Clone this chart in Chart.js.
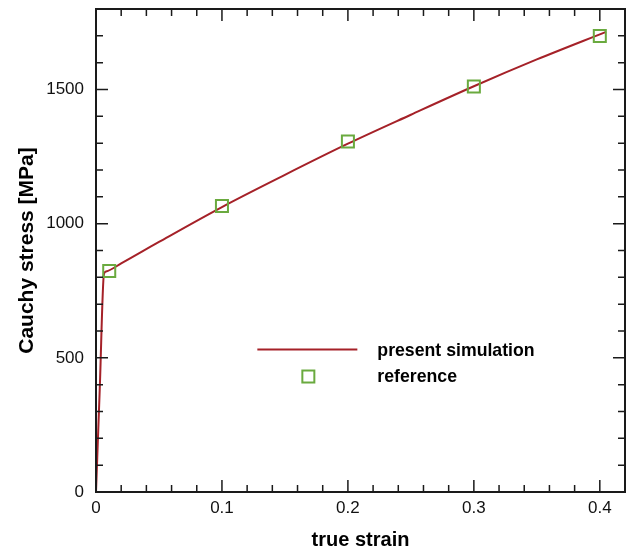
<!DOCTYPE html>
<html>
<head>
<meta charset="utf-8">
<script src="https://cdn.jsdelivr.net/npm/chart.js@4"></script>
<style>
  html, body { margin: 0; padding: 0; background: #fff; }
  #wrap { width: 631px; height: 549px; }
</style>
</head>
<body>
<div id="wrap"><canvas id="chart" width="631" height="549"></canvas></div>
<script>
// simulated stress-strain curve
const simStrain = [0, 0.003, 0.0063, 0.008, 0.02, 0.05, 0.1, 0.15, 0.2, 0.25, 0.3, 0.35, 0.405];
const simStress = [0, 387, 812, 822, 852, 932, 1062, 1182, 1298, 1406, 1512, 1612, 1715];

// reference points
const refStrain = [0.0105, 0.1, 0.2, 0.3, 0.4];
const refStress = [824, 1066, 1306, 1511, 1699];

const xTicks = [0, 0.1, 0.2, 0.3, 0.4];
const yTicks = [0, 500, 1000, 1500];

const legendLabels = ['present simulation', 'reference'];

const lineColor = '#a52128';
const markColor = '#6aaa3f';
const fontFam = '"Liberation Sans", Arial, sans-serif';

// frame + inward ticks on all four sides, plus the legend inside the plot
const framePlugin = {
  id: 'frame',
  afterDraw(chart) {
    const { ctx, chartArea: a, scales } = chart;
    const xs = scales.x, ys = scales.y;
    ctx.save();
    ctx.strokeStyle = '#1a1a1a';
    ctx.lineWidth = 1.5;
    for (let i = 0; i <= 21; i++) {
      const v = i * 0.02;
      const px = xs.getPixelForValue(v);
      const len = i % 5 === 0 ? 12 : 7;
      ctx.beginPath();
      ctx.moveTo(px, a.bottom); ctx.lineTo(px, a.bottom - len);
      ctx.moveTo(px, a.top); ctx.lineTo(px, a.top + len);
      ctx.stroke();
    }
    for (let i = 0; i <= 18; i++) {
      const v = i * 100;
      const py = ys.getPixelForValue(v);
      const len = i % 5 === 0 ? 12 : 7;
      ctx.beginPath();
      ctx.moveTo(a.left, py); ctx.lineTo(a.left + len, py);
      ctx.moveTo(a.right, py); ctx.lineTo(a.right - len, py);
      ctx.stroke();
    }
    ctx.lineWidth = 2;
    ctx.strokeRect(a.left, a.top, a.right - a.left, a.bottom - a.top);

    // legend
    const lx = a.left + (a.right - a.left) * 0.305;
    const ly = a.top + (a.bottom - a.top) * 0.705;
    ctx.strokeStyle = lineColor;
    ctx.lineWidth = 2;
    ctx.beginPath();
    ctx.moveTo(lx, ly); ctx.lineTo(lx + 100, ly);
    ctx.stroke();
    ctx.strokeStyle = markColor;
    ctx.lineWidth = 2;
    ctx.strokeRect(lx + 45, ly + 21, 12, 12);
    ctx.fillStyle = '#000';
    ctx.font = 'bold 17.7px ' + fontFam;
    ctx.textBaseline = 'middle';
    ctx.textAlign = 'left';
    ctx.fillText(legendLabels[0], lx + 120, ly + 2);
    ctx.fillText(legendLabels[1], lx + 120, ly + 28);
    ctx.restore();
  }
};

new Chart(document.getElementById('chart'), {
  type: 'scatter',
  data: {
    datasets: [
      {
        label: legendLabels[0],
        data: simStrain.map((x, i) => ({ x, y: simStress[i] })),
        showLine: true,
        borderColor: lineColor,
        borderWidth: 2,
        pointRadius: 0,
        cubicInterpolationMode: 'monotone',
        order: 2
      },
      {
        label: legendLabels[1],
        data: refStrain.map((x, i) => ({ x, y: refStress[i] })),
        showLine: false,
        pointStyle: 'rect',
        pointRadius: 8.5,
        borderColor: markColor,
        backgroundColor: 'rgba(0,0,0,0)',
        borderWidth: 2,
        order: 1
      }
    ]
  },
  options: {
    responsive: false,
    animation: false,
    layout: { autoPadding: false, padding: { top: 9, right: 6, left: 0, bottom: 0 } },
    plugins: { legend: { display: false }, tooltip: { enabled: false } },
    scales: {
      x: {
        type: 'linear',
        min: 0,
        max: 0.42,
        afterBuildTicks: s => { s.ticks = xTicks.map(v => ({ value: v })); },
        afterFit: s => { s.height = 57; s.paddingLeft = 0; s.paddingRight = 0; },
        grid: { display: false, drawTicks: false },
        border: { display: false },
        ticks: {
          color: '#111',
          font: { family: fontFam, size: 17 },
          padding: 6,
          callback: v => String(+v.toFixed(2))
        },
        title: {
          display: true,
          text: 'true strain',
          color: '#000',
          font: { family: fontFam, size: 20, weight: 'bold', lineHeight: 0.9 },
          padding: { top: 0, bottom: 0 }
        }
      },
      y: {
        type: 'linear',
        min: 0,
        max: 1800,
        afterBuildTicks: s => { s.ticks = yTicks.map(v => ({ value: v })); },
        afterFit: s => { s.width = 96; s.paddingTop = 0; s.paddingBottom = 0; },
        grid: { display: false, drawTicks: false },
        border: { display: false },
        ticks: {
          color: '#111',
          font: { family: fontFam, size: 17 },
          padding: 12,
          callback: v => String(v)
        },
        title: {
          display: true,
          text: 'Cauchy stress [MPa]',
          color: '#000',
          font: { family: fontFam, size: 21, weight: 'bold', lineHeight: 1.2 },
          padding: { top: 15, bottom: 0 }
        }
      }
    }
  },
  plugins: [framePlugin]
});
</script>
</body>
</html>
